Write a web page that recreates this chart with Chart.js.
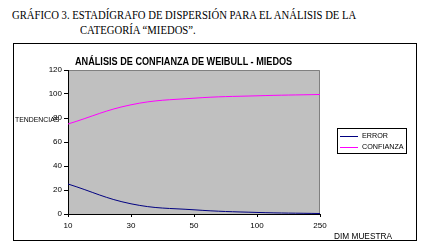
<!DOCTYPE html>
<html>
<head>
<meta charset="utf-8">
<script src="https://cdn.jsdelivr.net/npm/chart.js@4/dist/chart.umd.min.js"></script>
<style>
  body { margin: 0; width: 422px; height: 249px; background: #fff; position: relative; overflow: hidden; }
  .hdr { position: absolute; font-family: "Liberation Serif", "Times New Roman", serif; font-size: 12px; color: #000; white-space: nowrap; transform: scaleX(0.89); transform-origin: 0 0; }
  #box { position: absolute; left: 13px; top: 43px; width: 402px; height: 196px; border: 1px solid #000; }
  #wrap { position: absolute; left: 0; top: 0; width: 402px; height: 196px; }
  .lbl { position: absolute; font-family: "Liberation Sans", Arial, sans-serif; font-size: 8px; color: #000; white-space: nowrap; transform-origin: 0 0; }
  #ttl { font-weight: bold; font-size: 10.5px; transform: scaleX(0.87); }
  #legend { position: absolute; left: 323px; top: 84px; width: 68px; height: 24px; border: 1px solid #000; background: #fff; }
  .item { position: absolute; left: 2px; height: 10px; }
  .item span.sw { position: absolute; left: 0; top: 5px; width: 18px; height: 1px; }
  .item span.tx { position: absolute; left: 22px; top: 0; font-family: "Liberation Sans", Arial, sans-serif; font-size: 8px; line-height: 10px; transform: scaleX(0.9); transform-origin: 0 0; }
</style>
</head>
<body>
<div class="hdr" style="left:12px; top:8px;">GRÁFICO 3. ESTADÍGRAFO DE DISPERSIÓN PARA EL ANÁLISIS DE LA</div>
<div class="hdr" style="left:80px; top:23px;">CATEGORÍA “MIEDOS”.</div>
<div id="box">
  <div id="wrap"><canvas id="myChart"></canvas></div>
  <div class="lbl" id="ttl" style="left:61px; top:11px;">ANÁLISIS DE CONFIANZA DE WEIBULL - MIEDOS</div>
  <div class="lbl" style="left:1px; top:71px; transform: scaleX(0.86);">TENDENCIAS</div>
  <div class="lbl" style="left:320px; top:187px; font-size:9px; transform: scaleX(0.92);">DIM MUESTRA</div>
  <div id="legend"></div>
</div>
<script>
var categories = ['10', '30', '50', '100', '250'];
var errorValues = [25, 8.5, 3.5, 1.3, 0.4];
var confianzaValues = [75, 91, 96.5, 98.5, 99.6];
var seriesNames = ['ERROR', 'CONFIANZA'];
var seriesColors = ['#000080', '#ff00ff'];

var plotBg = {
  id: 'plotBg',
  beforeDraw: function(chart) {
    var a = chart.chartArea, c = chart.ctx;
    c.save();
    c.fillStyle = '#c0c0c0';
    c.fillRect(a.left, a.top, a.right - a.left, a.bottom - a.top);
    c.strokeStyle = '#808080';
    c.lineWidth = 1;
    c.beginPath();
    c.moveTo(a.left, a.top + 0.5);
    c.lineTo(a.right - 0.5, a.top + 0.5);
    c.lineTo(a.right - 0.5, a.bottom);
    c.stroke();
    c.restore();
  }
};

var ctx = document.getElementById('myChart').getContext('2d');
var chart = new Chart(ctx, {
  type: 'line',
  data: {
    labels: categories,
    datasets: [
      { label: seriesNames[0], data: errorValues, borderColor: seriesColors[0], borderWidth: 1, pointRadius: 0, tension: 0.4, fill: false },
      { label: seriesNames[1], data: confianzaValues, borderColor: seriesColors[1], borderWidth: 1, pointRadius: 0, tension: 0.4, fill: false }
    ]
  },
  options: {
    responsive: true,
    maintainAspectRatio: false,
    animation: false,
    layout: { padding: { top: 26, right: 96, left: 0, bottom: 0 } },
    plugins: { legend: { display: false }, title: { display: false }, tooltip: { enabled: false } },
    scales: {
      x: {
        offset: false,
        grid: { drawOnChartArea: false, drawTicks: true, tickLength: 3, color: '#000' },
        border: { color: '#000', width: 1 },
        ticks: { color: '#000', font: { family: 'Liberation Sans, Arial', size: 8 }, padding: 4, maxRotation: 0 },
        afterFit: function(s) { s.height = 26; }
      },
      y: {
        min: 0, max: 120,
        ticks: { stepSize: 20, color: '#000', font: { family: 'Liberation Sans, Arial', size: 8 }, padding: 2 },
        grid: { drawOnChartArea: false, drawTicks: true, tickLength: 4, color: '#000' },
        border: { color: '#000', width: 1 },
        afterFit: function(s) { s.width = 54; }
      }
    }
  },
  plugins: [plotBg]
});

// legend built from the datasets
var lg = document.getElementById('legend');
chart.data.datasets.forEach(function(ds, i) {
  var it = document.createElement('div');
  it.className = 'item';
  it.style.top = (2 + i * 11) + 'px';
  it.innerHTML = '<span class="sw" style="background:' + ds.borderColor + '"></span><span class="tx">' + ds.label + '</span>';
  lg.appendChild(it);
});
</script>
</body>
</html>
